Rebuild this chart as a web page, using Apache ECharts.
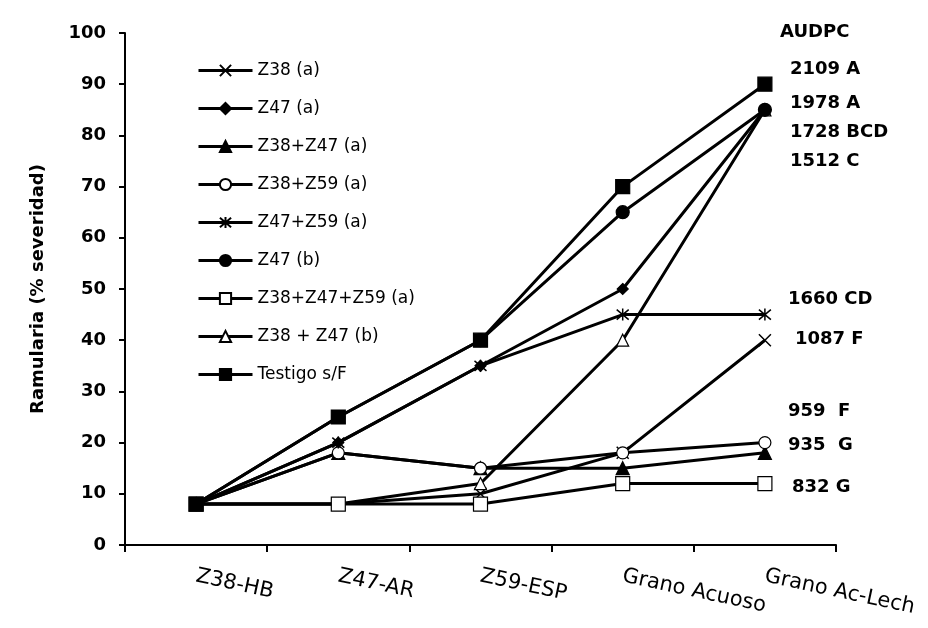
<!DOCTYPE html>
<html>
<head>
<meta charset="utf-8">
<script src="https://cdn.jsdelivr.net/npm/echarts@6/dist/echarts.min.js"></script>
<style>html,body{margin:0;padding:0;background:#fff}#c{width:928px;height:628px}</style>
</head>
<body>
<div id="c"></div>
<script>
var categories = ['Z38-HB', 'Z47-AR', 'Z59-ESP', 'Grano Acuoso', 'Grano Ac-Lech'];
var seriesNames = ['Z38 (a)', 'Z47 (a)', 'Z38+Z47 (a)', 'Z38+Z59 (a)', 'Z47+Z59 (a)', 'Z47 (b)', 'Z38+Z47+Z59 (a)', 'Z38 + Z47 (b)', 'Testigo s/F'];
var z38a      = [8, 8, 10, 18, 40];
var z47a      = [8, 20, 35, 50, 85];
var z38z47a   = [8, 18, 15, 15, 18];
var z38z59a   = [8, 18, 15, 18, 20];
var z47z59a   = [8, 20, 35, 45, 45];
var z47b      = [8, 25, 40, 65, 85];
var z38z47z59a = [8, 8, 8, 12, 12];
var z38z47b   = [8, 8, 12, 40, 85];
var testigo   = [8, 25, 40, 70, 90];
var yTicks = [0, 10, 20, 30, 40, 50, 60, 70, 80, 90, 100];
var audpcLabels = ['2109 A', '1978 A', '1728 BCD', '1512 C', '1660 CD', '1087 F', '959  F', '935  G', '832 G'];

var FONT = '"DejaVu Sans", "Liberation Sans", Arial, sans-serif';
var CROSS = 'path://M0,0L10,10M10,0L0,10';
var STAR = 'path://M0,0L10,10M10,0L0,10M5,-1L5,11';

function mk(name, data, symbol, size, fill, z, lw) {
  return {
    name: name, type: 'line', data: data, symbol: symbol, symbolSize: size,
    showAllSymbol: true, z: z,
    lineStyle: { color: '#000', width: lw || 3 },
    itemStyle: { color: fill, borderColor: '#000', borderWidth: 1.2 },
    emphasis: { disabled: true }
  };
}
var series = [
  mk(seriesNames[0], z38a, CROSS, 12, '#fff', 3),
  mk(seriesNames[1], z47a, 'diamond', 11, '#000', 4),
  mk(seriesNames[2], z38z47a, 'triangle', 13, '#000', 2),
  mk(seriesNames[3], z38z59a, 'circle', 12, '#fff', 5),
  mk(seriesNames[4], z47z59a, STAR, 12, '#fff', 6),
  mk(seriesNames[5], z47b, 'circle', 13, '#000', 7),
  mk(seriesNames[6], z38z47z59a, 'rect', 14, '#fff', 8),
  mk(seriesNames[7], z38z47b, 'triangle', 12, '#fff', 3),
  mk(seriesNames[8], testigo, 'rect', 14, '#000', 9)
];
series[0].itemStyle.borderWidth = 1.5;
series[4].itemStyle.borderWidth = 1.5;

var audpcCenters = [70, 104, 133, 162, 300, 340, 412, 446, 488];
var audpcLefts = [790, 790, 790, 790, 788, 795, 788, 788, 792];
var graphics = [{ type: 'text', left: 780, top: 23, style: { text: 'AUDPC', font: 'bold 18px ' + FONT, fill: '#000' } }];
for (var i = 0; i < audpcLabels.length; i++) {
  graphics.push({ type: 'text', left: audpcLefts[i], top: audpcCenters[i] - 10, style: { text: audpcLabels[i], font: 'bold 18px ' + FONT, fill: '#000' } });
}

var chart = echarts.init(document.getElementById('c'));
chart.setOption({
  animation: false,
  backgroundColor: '#fff',
  textStyle: { fontFamily: FONT },
  grid: { left: 125, right: 92, top: 33, bottom: 83 },
  legend: {
    orient: 'vertical', left: 197, top: 62, padding: 0, itemWidth: 54, itemHeight: 14, itemGap: 21,
    lineStyle: { width: 3 },
    textStyle: { fontFamily: FONT, fontSize: 17, color: '#000' },
    data: seriesNames
  },
  xAxis: {
    type: 'category', data: categories, boundaryGap: true,
    axisLine: { lineStyle: { color: '#000', width: 2 } },
    axisTick: { show: true, length: 7, lineStyle: { color: '#000', width: 2 } },
    axisLabel: { rotate: -12, margin: 31, fontSize: 21, color: '#000', fontFamily: FONT }
  },
  yAxis: {
    type: 'value', min: 0, max: 100, interval: 10,
    name: 'Ramularia (% severidad)', nameLocation: 'middle', nameGap: 78,
    nameTextStyle: { fontSize: 18, fontWeight: 'bold', color: '#000', fontFamily: FONT },
    axisLine: { show: true, lineStyle: { color: '#000', width: 2 } },
    axisTick: { show: true, length: 6, lineStyle: { color: '#000', width: 2 } },
    splitLine: { show: false },
    axisLabel: { margin: 19, fontSize: 18, fontWeight: 'bold', color: '#000', fontFamily: FONT,
      formatter: function (v) { return yTicks.indexOf(v) >= 0 ? String(v) : ''; } }
  },
  graphic: graphics,
  series: series
});
</script>
</body>
</html>
